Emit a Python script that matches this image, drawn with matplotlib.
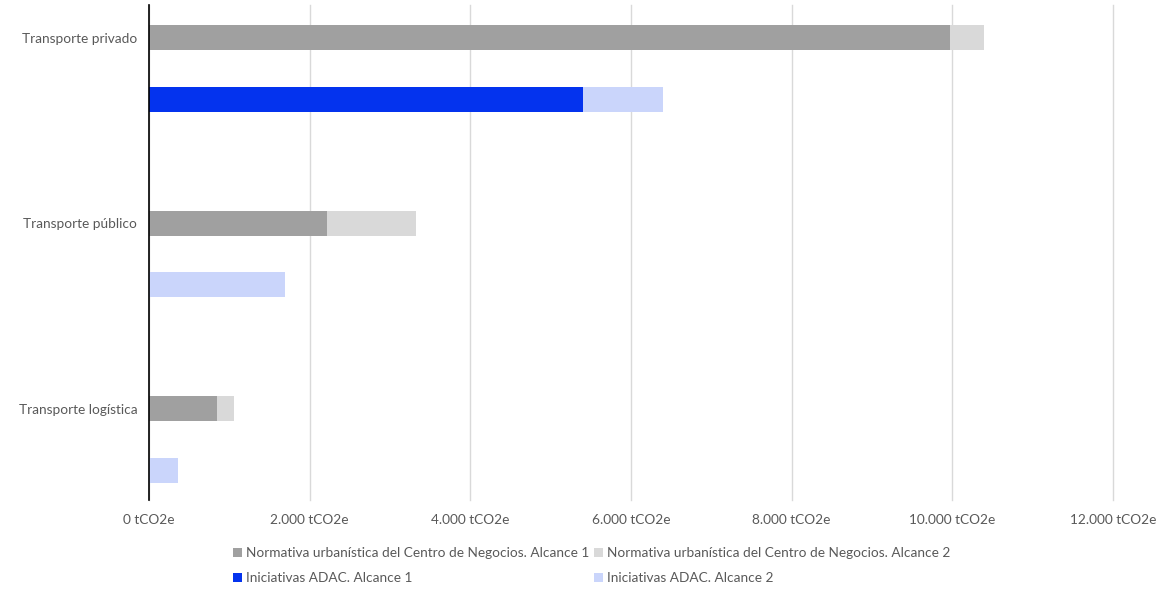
import matplotlib.pyplot as plt
import numpy as np
from matplotlib.ticker import FuncFormatter

plt.rcParams['font.family'] = ['Lato', 'DejaVu Sans']

# Emisiones por tipo de transporte (tCO2e)
categorias = ['Transporte privado', 'Transporte público', 'Transporte logística']
normativa_alc1 = [9970, 2215, 842]
normativa_alc2 = [425, 1110, 220]
adac_alc1 = [5400, 0, 0]
adac_alc2 = [1000, 1690, 365]

gris_osc = '#a0a0a0'
gris_cla = '#d9d9d9'
azul = '#0433ee'
azul_cla = '#cad5fb'

y = np.arange(len(categorias))
off = 0.33
h = 0.135

fig = plt.figure(figsize=(11.65, 5.89), dpi=100)
ax = fig.add_axes([149 / 1165, 1 - 500 / 589, (1113 - 149) / 1165, 495 / 589])

b1 = ax.barh(y, normativa_alc1, height=h, color=gris_osc)
b2 = ax.barh(y, normativa_alc2, height=h, left=normativa_alc1, color=gris_cla)
b3 = ax.barh(y + off, adac_alc1, height=h, color=azul)
b4 = ax.barh(y + off, adac_alc2, height=h, left=adac_alc1, color=azul_cla)

ax.set_xlim(0, 12000)
ax.set_ylim(2 + off + 0.161, -0.177)
ax.set_xticks(np.arange(0, 12001, 2000))
ax.xaxis.set_major_formatter(FuncFormatter(lambda v, p: f'{int(v):,}'.replace(',', '.') + ' tCO2e'))
ax.set_yticks(y)
ax.set_yticklabels(categorias)

ax.grid(axis='x', color='#d9d9d9', linewidth=1)
for gl in ax.get_xgridlines():
    gl.set_clip_on(False)
ax.set_axisbelow(True)
for s in ['top', 'right', 'bottom']:
    ax.spines[s].set_visible(False)
ax.spines['left'].set_color('#000000')
ax.spines['left'].set_linewidth(1.2)
ax.tick_params(length=0, labelsize=9.8, colors='#595959', pad=10)
ax.tick_params(axis='y', pad=8.5)

leg = fig.legend([b1, b3, b2, b4],
                 ['Normativa urbanística del Centro de Negocios. Alcance 1', 'Iniciativas ADAC. Alcance 1',
                  'Normativa urbanística del Centro de Negocios. Alcance 2', 'Iniciativas ADAC. Alcance 2'],
                 ncol=2, loc='upper left', bbox_to_anchor=(228 / 1165, 1 - 542 / 589),
                 frameon=False, fontsize=9.8, handlelength=0.6, handleheight=0.6,
                 handletextpad=0.3, columnspacing=0.4, labelspacing=0.95, borderaxespad=0)
for t in leg.get_texts():
    t.set_color('#595959')

fig.savefig('out.png', dpi=100)
